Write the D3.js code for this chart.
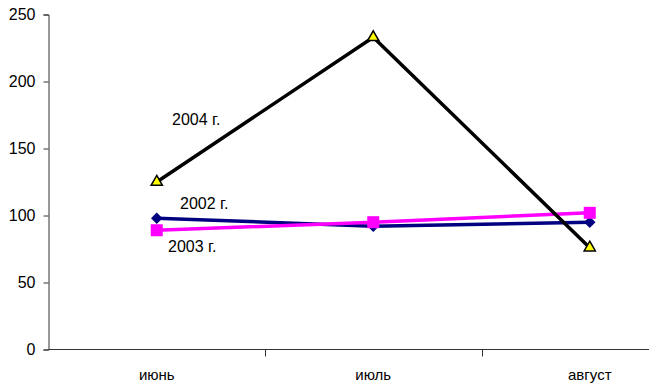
<!DOCTYPE html>
<html><head><meta charset="utf-8">
<script src="https://cdn.jsdelivr.net/npm/d3@7"></script>
<style>body{margin:0;background:#fff}svg{display:block}text{font-family:"Liberation Sans",Arial,sans-serif;fill:#000}</style>
</head><body><svg id="c" width="649" height="387"></svg>
<script>
const categories = ["июнь", "июль", "август"];
const s2002 = [98, 92, 95];
const s2003 = [89, 95, 102];
const s2004 = [125, 233, 76];
const yTicks = [0, 50, 100, 150, 200, 250];
const seriesNames = ["2002 г.", "2003 г.", "2004 г."];

const svg = d3.select("#c");
const x = d3.scaleBand().domain(categories).range([48.5, 698]);
const y = d3.scaleLinear().domain([0, 250]).range([349.5, 14.5]);

const yAxis = d3.axisLeft(y).tickValues(yTicks).tickSize(5).tickPadding(8).tickFormat(d3.format("d"));
const gy = svg.append("g").attr("transform", "translate(48.5,0)").call(yAxis);
gy.select(".domain").attr("stroke", "#333");
gy.selectAll(".tick line").attr("stroke", "#333");
gy.selectAll("text").style("font-size", "16px").attr("fill", "#000");

const xAxis = d3.axisBottom(x).tickSize(0).tickPadding(20);
const gx = svg.append("g").attr("transform", "translate(0,349.5)").call(xAxis);
gx.select(".domain").attr("stroke", "#333").attr("d", "M48.5,0H698");
gx.selectAll("text").style("font-size", "15px").attr("fill", "#000");
// category boundary tick marks
gx.selectAll(".bnd").data(categories.slice(1)).enter().append("line")
  .attr("x1", d => Math.round(x(d)) + 0.5).attr("x2", d => Math.round(x(d)) + 0.5)
  .attr("y1", 0).attr("y2", 7).attr("stroke", "#333");

const cx = d => x(d) + x.bandwidth() / 2;
const line = d3.line().x(d => cx(d.c)).y(d => y(d.v));
const mk = arr => categories.map((c, i) => ({c, v: arr[i]}));

// 2002 navy diamonds
svg.append("path").datum(mk(s2002)).attr("d", line).attr("fill", "none").attr("stroke", "#000080").attr("stroke-width", 3.5);
svg.selectAll(".d2002").data(mk(s2002)).enter().append("path")
  .attr("d", d3.symbol().type(d3.symbolDiamond2).size(85)).attr("transform", d => `translate(${cx(d.c)},${y(d.v)})`)
  .attr("fill", "#000080");

// 2003 magenta squares
svg.append("path").datum(mk(s2003)).attr("d", line).attr("fill", "none").attr("stroke", "#ff00ff").attr("stroke-width", 3.5);
svg.selectAll(".d2003").data(mk(s2003)).enter().append("rect")
  .attr("x", d => cx(d.c) - 6).attr("y", d => y(d.v) - 6).attr("width", 12).attr("height", 12)
  .attr("fill", "#ff00ff");

// 2004 black line with yellow triangles
svg.append("path").datum(mk(s2004)).attr("d", line).attr("fill", "none").attr("stroke", "#000").attr("stroke-width", 3.5);
svg.selectAll(".d2004").data(mk(s2004)).enter().append("path")
  .attr("d", d3.symbol().type(d3.symbolTriangle).size(55)).attr("transform", d => `translate(${cx(d.c)},${y(d.v)})`)
  .attr("fill", "#ffff00").attr("stroke", "#000").attr("stroke-width", 1.5);

// series labels
const labels = [
  {t: seriesNames[0], x: 180, y: 209},
  {t: seriesNames[1], x: 168, y: 252},
  {t: seriesNames[2], x: 172, y: 125}
];
svg.selectAll(".lbl").data(labels).enter().append("text")
  .attr("x", d => d.x).attr("y", d => d.y).style("font-size", "16px").text(d => d.t);
</script></body></html>
